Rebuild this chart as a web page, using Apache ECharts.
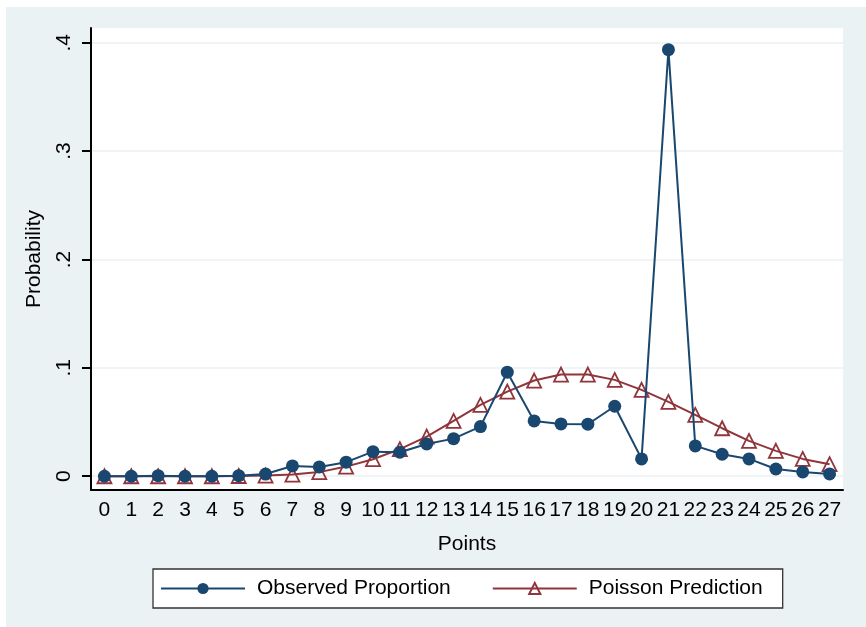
<!DOCTYPE html>
<html><head><meta charset="utf-8">
<script src="https://cdn.jsdelivr.net/npm/echarts@6/dist/echarts.min.js"></script>
<style>html,body{margin:0;padding:0;background:#fff}#c{width:866px;height:627px}</style>
</head><body><div id="c"></div>
<script>
var points = ['0','1','2','3','4','5','6','7','8','9','10','11','12','13','14','15','16','17','18','19','20','21','22','23','24','25','26','27'];
var observed = [0,0,0.0005,0,0,0.0005,0.002,0.0095,0.0086,0.013,0.0227,0.0222,0.0298,0.0347,0.0458,0.096,0.051,0.0483,0.048,0.0646,0.016,0.3936,0.028,0.0203,0.016,0.0067,0.004,0.0021];
var poisson = [0,0,0,0,0,0.0002,0.0006,0.0015,0.0038,0.0089,0.0157,0.025,0.0366,0.051,0.0658,0.0781,0.0883,0.0938,0.0938,0.0889,0.0797,0.0686,0.0566,0.0443,0.0326,0.0234,0.016,0.0111];
var yTicks = [0,0.1,0.2,0.3,0.4];
var yTickLabels = ['0','.1','.2','.3','.4'];

var FONT = 'Liberation Sans, Arial, Helvetica, sans-serif';
var BLUE = '#1a476f', RED = '#90353b', BG = '#eaf2f3';
var chart = echarts.init(document.getElementById('c'), null, {renderer:'canvas'});
chart.setOption({
  animation:false,
  graphic:[{type:'rect', z:-10, shape:{x:6,y:7,width:860,height:620}, style:{fill:BG}}],
  grid:{left:91,right:23,top:28,bottom:137,show:true,backgroundColor:'#fff',borderWidth:0},
  xAxis:{type:'category',data:points,boundaryGap:true,
    name:'Points',nameLocation:'middle',nameGap:44,nameMoveOverlap:false,
    nameTextStyle:{fontFamily:FONT,fontSize:21,color:'#000',verticalAlign:'top'},
    axisLine:{onZero:false,lineStyle:{color:'#000',width:2}},
    axisTick:{alignWithLabel:true,length:8,lineStyle:{color:'#000',width:2}},
    axisLabel:{interval:0,fontFamily:FONT,fontSize:21,color:'#000',margin:10,hideOverlap:false},
    splitLine:{show:false}},
  yAxis:{type:'value',min:-0.0127,max:0.4136,
    name:'Probability',nameLocation:'middle',nameRotate:90,nameGap:46,nameMoveOverlap:false,
    nameTextStyle:{fontFamily:FONT,fontSize:21,color:'#000'},
    axisLine:{show:true,lineStyle:{color:'#000',width:2}},
    axisTick:{show:true,length:9,customValues:yTicks,lineStyle:{color:'#000',width:2}},
    axisLabel:{customValues:yTicks,rotate:90,fontFamily:FONT,fontSize:21,color:'#000',margin:16,
      formatter:function(v){var i=yTicks.indexOf(v);return i>=0?yTickLabels[i]:'';}},
    splitLine:{show:true,lineStyle:{color:BG,width:1.5}}},
  legend:{left:153,top:569,orient:'horizontal',itemWidth:84,itemHeight:14,itemGap:41,
    padding:[9,20,9,7],borderColor:'#333',borderWidth:1.3,backgroundColor:'#fff',
    textStyle:{fontFamily:FONT,fontSize:21,color:'#000',padding:[0,0,0,7]},
    data:['Observed Proportion','Poisson Prediction']},
  series:[
    {name:'Observed Proportion',type:'line',data:observed,z:3,
      symbol:'circle',symbolSize:13,clip:false,
      lineStyle:{color:BLUE,width:2},itemStyle:{color:BLUE}},
    {name:'Poisson Prediction',type:'line',data:poisson,z:2,
      symbol:'triangle',symbolSize:14,clip:false,
      lineStyle:{color:RED,width:2},itemStyle:{color:'rgba(255,255,255,0)',borderColor:RED,borderWidth:1.8}}
  ]
});
</script></body></html>
